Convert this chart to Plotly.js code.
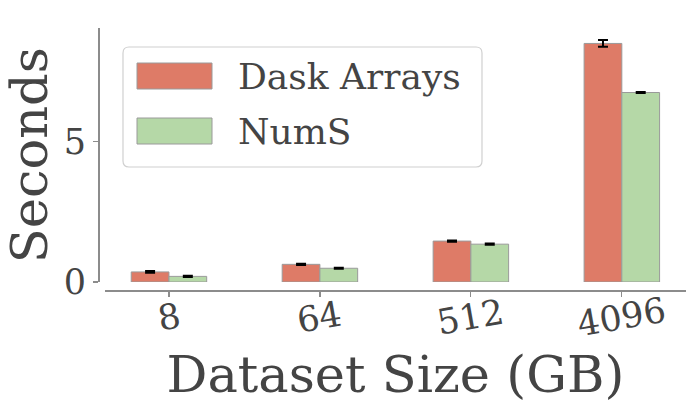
<!DOCTYPE html>
<html>
<head>
<meta charset="utf-8">
<script src="https://cdn.plot.ly/plotly-3.0.1.min.js"></script>
<style>
  html, body { margin: 0; padding: 0; background: #fff; }
  #chart { width: 698px; height: 416px; }
</style>
</head>
<body>
<div id="chart"></div>
<script>
// ---- data ----
const sizes = ["8", "64", "512", "4096"];
const seriesNames = ["Dask Arrays", "NumS"];
const daskSeconds = [0.36, 0.63, 1.46, 8.51];
const daskErr = [0.03, 0.02, 0.02, 0.12];
const numsSeconds = [0.20, 0.49, 1.35, 6.76];
const numsErr = [0.02, 0.02, 0.02, 0.02];

const W = 698, H = 416;
const FONT = "DejaVu Serif, serif";
const TEXT = "#444444";
const SPINE = "#8c8c8c";
const colors = ["#de7b67", "#b5d8a7"];

// pixel -> paper helpers for layout placement
const px = (x) => x / W;
const py = (y) => 1 - y / H;

function bar(name, y, err, color) {
  return {
    type: "bar",
    name: name,
    x: sizes,
    y: y,
    marker: { color: color, line: { color: "#9a9a9a", width: 1 } },
    error_y: { type: "data", array: err, visible: true, color: "#000", thickness: 2, width: 5 },
    showlegend: false,
  };
}

const traces = [
  bar(seriesNames[0], daskSeconds, daskErr, colors[0]),
  bar(seriesNames[1], numsSeconds, numsErr, colors[1]),
];

// rounded legend frame
function roundRect(x0, y0, x1, y1, r) {
  const rx = r / W, ry = r / H;
  const a = px(x0), b = px(x1), t = py(y0), d = py(y1);
  return "M" + (a + rx) + "," + t +
    " L" + (b - rx) + "," + t + " Q" + b + "," + t + " " + b + "," + (t - ry) +
    " L" + b + "," + (d + ry) + " Q" + b + "," + d + " " + (b - rx) + "," + d +
    " L" + (a + rx) + "," + d + " Q" + a + "," + d + " " + a + "," + (d + ry) +
    " L" + a + "," + (t - ry) + " Q" + a + "," + t + " " + (a + rx) + "," + t + " Z";
}

const shapes = [
  { type: "path", xref: "paper", yref: "paper", path: roundRect(123, 47, 482, 167, 6),
    line: { color: "#d0d0d0", width: 1.2 }, fillcolor: "rgba(255,255,255,0.85)" },
];
const annotations = [];
const swatchY = [[63, 89], [118, 144]];
seriesNames.forEach((n, i) => {
  shapes.push({ type: "rect", xref: "paper", yref: "paper",
    x0: px(137), x1: px(212), y0: py(swatchY[i][1]), y1: py(swatchY[i][0]),
    fillcolor: colors[i], line: { color: "#9a9a9a", width: 1 } });
  annotations.push({ xref: "paper", yref: "paper", x: px(236), y: py((swatchY[i][0] + swatchY[i][1]) / 2),
    xanchor: "left", yanchor: "middle", text: n, showarrow: false,
    font: { family: FONT, size: 36, color: TEXT } });
});

// x tick labels, tilted and centred on the ticks (category index positions)
sizes.forEach((s, i) => {
  annotations.push({ xref: "x", yref: "paper", x: i, y: py(317), text: s, showarrow: false,
    textangle: -10, xanchor: "center", yanchor: "middle",
    font: { family: FONT, size: 35, color: TEXT } });
});

const layout = {
  width: W, height: H,
  margin: { l: 0, r: 0, t: 0, b: 0 },
  paper_bgcolor: "#fff", plot_bgcolor: "#fff",
  barmode: "group", bargap: 0.5, bargroupgap: 0,
  font: { family: FONT, color: TEXT },
  xaxis: {
    type: "category",
    domain: [px(104.8), px(686)],
    anchor: "free", position: py(290),
    range: [-0.425, 3.425],
    showline: true, linecolor: SPINE, linewidth: 1.5,
    ticks: "outside", ticklen: 5, tickcolor: SPINE, tickwidth: 1.2,
    showticklabels: false, showgrid: false, zeroline: false,
    title: { text: "Dataset Size (GB)", font: { family: FONT, size: 51, color: TEXT }, standoff: 61 },
    automargin: false,
  },
  yaxis: {
    domain: [py(282), py(28.3)],
    anchor: "free", position: px(98),
    range: [0, 9.05],
    tickvals: [0, 5], ticktext: ["0", "5"],
    showline: true, linecolor: SPINE, linewidth: 1.5,
    ticks: "outside", ticklen: 5, tickcolor: SPINE, tickwidth: 1.2,
    tickfont: { family: FONT, size: 35, color: TEXT },
    showgrid: false, zeroline: false,
    title: { text: "Seconds", font: { family: FONT, size: 51, color: TEXT }, standoff: 4 },
    automargin: false,
  },
  shapes: shapes,
  annotations: annotations,
};

Plotly.newPlot("chart", traces, layout, { displayModeBar: false, staticPlot: true });
</script>
</body>
</html>
